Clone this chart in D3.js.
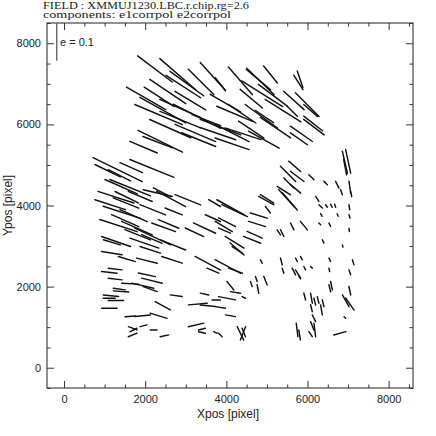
<!DOCTYPE html>
<html><head><meta charset="utf-8">
<script src="https://cdn.jsdelivr.net/npm/d3@7"></script>
<style>html,body{margin:0;padding:0;background:#fff;} svg{display:block;}</style>
</head><body>
<svg id="c" width="436" height="436"></svg>
<script>
// ---- data (Xpos, Ypos in pixel; ellipticity modulus and position angle in degrees) ----
const xpos = [2240,2803,2939,3026,3379,3668,4347,4841,4792,5088,5775,5817,3853,4883,4615,5150,5664,5993,5624,6076,6138,6158,5850,5788,4204,4388,4862,4940,4141,4409,4614,4923,4141,2022,2433,2865,2342,2330,3276,3507,3236,3318,2371,2309,1960,3791,
1321,2165,1655,1362,1408,1279,1544,1877,2309,2412,2639,1424,1526,1713,1342,1507,1796,2186,2166,2454,2576,2701,3462,3215,3668,3709,1281,1177,1980,2124,1178,1547,2043,2660,3544,3668,1260,1116,1260,2041,2166,1630,1939,2124,1362,1403,1156,1115,1279,1116,2433,2763,1630,1939,2330,1960,1692,1713,1692,2207,2474,3297,3544,3462,3751,3255,3400,3400,3730,
4100,4204,4017,3936,3956,4203,4264,4266,4698,4635,4800,4758,4984,5026,5478,5562,4038,4224,4100,4224,4017,3853,4100,4430,4347,4430,4409,3853,4615,4739,4779,4965,4862,5294,5376,5623,5912,6241,6323,6468,6589,6681,6838,7077,7031,6342,6743,7035,6302,6549,7027,6385,6867,5356,5397,5727,5850,5665,5767,5808,5932,6097,6549,6537,7126,7043,6591,6549,7043,5932,6097,6179,6261,6385,6344,6097,6159,6117,6179,5743,5805,6076,6941,7043,6920,6796,6921,7002,6928,5685,5520,5746,5540,6096,6447,6734,7043,5418,5706,5005,
2556,3112,3977,5397,5212,2618,1630,1136,2186,1815,2680,3050,1074,3853,2865];
const ypos = [7366,7238,6933,7007,7044,7180,7073,7057,7106,7230,7036,7114,6991,6755,6633,6715,6591,6489,6323,6344,6023,5933,5767,5645,6261,6263,6201,6192,5788,5769,5871,5624,5522,6641,6353,6118,6681,6242,6201,6106,5788,5624,5583,5562,5439,5772,
4883,4914,4933,4747,4463,4204,4204,4224,4306,4327,4162,3833,4061,3751,3504,3627,3442,3237,3175,3463,3546,3854,3443,3339,3689,4059,3112,3092,3073,2907,2824,2680,2640,2660,2577,2393,2434,2351,2187,2290,2146,2072,2023,1939,1940,1882,1775,1714,1660,1467,1528,1775,1268,1281,1282,1034,972,931,808,931,787,1570,1528,1817,1672,1055,952,869,869,
3957,3874,3586,3483,3381,3092,2928,2907,3278,3154,3752,3544,4121,3895,4183,4105,2496,2393,2022,1857,1713,1487,1281,1734,848,869,848,808,2062,2186,1940,2145,2619,3339,3318,3484,3504,4162,3978,3988,3994,3994,4327,4285,3957,3765,3765,3731,3546,3525,3401,3113,3002,2619,2393,2660,2701,2372,2311,2228,2454,2475,2660,2413,2598,2351,2022,1960,1898,1755,1714,1631,1672,1589,1425,1466,1219,1034,931,931,808,827,1651,1570,1240,848,5068,5089,4945,4965,4779,4718,4555,4698,4553,4513,4451,4368,4410,4163,
6810,6587,6526,6340,5921,5896,4439,4019,3895,3278,3031,4142,4858,5933,6390];
const emod = [.115,.126,.109,.110,.096,.100,.097,.101,.084,.058,.046,.046,.044,.128,.077,.097,.073,.089,.038,.048,.063,.068,.071,.055,.103,.088,.106,.058,.101,.100,.081,.093,.095,.120,.139,.116,.094,.137,.141,.081,.117,.097,.131,.084,.079,.100,
.145,.126,.065,.066,.094,.100,.069,.069,.079,.051,.087,.104,.073,.079,.104,.079,.089,.105,.059,.067,.059,.049,.065,.054,.044,.036,.081,.047,.081,.057,.055,.047,.056,.057,.077,.034,.037,.041,.037,.046,.056,.045,.060,.039,.032,.041,.041,.032,.041,.041,.046,.032,.027,.041,.047,.019,.024,.020,.025,.018,.023,.050,.041,.023,.022,.042,.019,.019,.010,
.082,.075,.051,.053,.034,.059,.048,.032,.044,.049,.047,.047,.046,.022,.061,.061,.077,.039,.029,.027,.046,.027,.027,.010,.040,.024,.038,.013,.014,.014,.023,.024,.010,.016,.020,.020,.029,.016,.013,.008,.009,.009,.014,.014,.014,.008,.007,.009,.007,.010,.009,.010,.006,.019,.014,.010,.010,.020,.026,.009,.010,.006,.010,.009,.014,.014,.023,.019,.023,.019,.027,.019,.018,.019,.027,.019,.020,.024,.036,.036,.027,.016,.036,.039,.006,.033,.060,.064,.041,.042,.057,.045,.038,.019,.013,.020,.032,.042,.035,.042,
.115,.095,.093,.112,.097,.119,.116,.085,.073,.073,.073,.073,.075,.115,.119];
const angle = [-37,-41,-33,-36,-45,-48,-49,-44,-40,-51,-58,-71,-52,-32,-40,-37,-42,-45,-45,-41,-38,-37,-35,-35,-23,-34,-36,-34,-27,-18,-34,-29,-19,-30,-29,-22,-33,-23,-27,-21,-23,-22,-26,-21,-23,-19,
-26,-22,-24,-27,-24,-18,-26,-23,-13,-27,-28,-18,-22,-24,-18,-24,-24,-25,-23,-20,-23,-22,-25,-25,-24,-30,-19,-17,-19,-18,-9,-17,-14,-18,-28,-23,-7,-6,-7,-12,-14,-3,-13,-20,-8,-4,-6,0,0,0,-29,-8,4,6,-17,14,-21,27,22,0,12,5,-6,-12,0,13,14,-13,-25,
-29,-25,-27,-31,-23,-32,-41,-33,-24,-22,-17,-17,-29,-53,-48,-49,-28,-20,-51,-9,-11,-9,-10,-26,-64,-69,69,-45,-71,-71,-79,-68,-63,-57,-64,-64,-51,-57,-44,-56,-63,-72,-71,-79,-82,-59,-68,-73,-45,-63,-83,-64,-75,-76,-72,-63,-63,-64,-59,-60,-63,-43,-63,-78,-72,-71,-78,-76,-78,-76,-80,-76,-76,-77,-80,-76,-64,-68,-83,-83,-81,-56,-61,-55,-43,16,-77,-78,-79,-41,-45,-37,-45,-45,-44,-63,-82,-32,-40,-32,
-34,-31,-30,-32,-34,-24,-22,-18,-22,-22,-22,-22,-26,-21,-24];
const xTicks = [0, 2000, 4000, 6000, 8000];
const yTicks = [0, 2000, 4000, 6000, 8000];
const titleLines = ["FIELD :  XMMUJ1230.LBC.r.chip.rg=2.6", "components: e1corrpol e2corrpol"];
const legendE = 0.1;

// ---- layout ----
const L = 47, R = 413, T = 23, B = 388;
const svg = d3.select("#c");
const x = d3.scaleLinear().domain([-420, 8600]).range([L, R]);
const y = d3.scaleLinear().domain([-500, 8500]).range([B, T]);
const whiskerUnits = 9300; // data units per unit of ellipticity

const minorX = d3.range(0, 8601, 500).filter(v => v % 2000 !== 0);
const minorY = d3.range(-500, 8501, 500).filter(v => v % 2000 !== 0);

const fontSans = "'Liberation Sans', Arial, sans-serif";
const fontSerif = "'Liberation Serif', 'DejaVu Serif', serif";

function styleAxis(g) {
  g.select(".domain").remove();
  g.selectAll("line").attr("stroke", "#333").attr("stroke-width", 1);
  g.selectAll("text").attr("fill", "#222").style("font-family", fontSans).style("font-size", "11px");
}

svg.append("g").attr("transform", `translate(0,${B})`)
  .call(d3.axisBottom(x).tickValues(xTicks).tickSizeInner(-7).tickSizeOuter(0).tickPadding(7).tickFormat(d3.format("d")))
  .call(styleAxis);
svg.append("g").attr("transform", `translate(${L},0)`)
  .call(d3.axisLeft(y).tickValues(yTicks).tickSizeInner(-7).tickSizeOuter(0).tickPadding(6).tickFormat(d3.format("d")))
  .call(styleAxis);
svg.append("g").attr("transform", `translate(0,${T})`)
  .call(d3.axisTop(x).tickValues(xTicks).tickSizeInner(-7).tickSizeOuter(0).tickFormat(""))
  .call(styleAxis);
svg.append("g").attr("transform", `translate(${R},0)`)
  .call(d3.axisRight(y).tickValues(yTicks).tickSizeInner(-7).tickSizeOuter(0).tickFormat(""))
  .call(styleAxis);
svg.append("g").attr("transform", `translate(0,${B})`)
  .call(d3.axisBottom(x).tickValues(minorX).tickSizeInner(-3.5).tickSizeOuter(0).tickFormat("")).call(styleAxis);
svg.append("g").attr("transform", `translate(0,${T})`)
  .call(d3.axisTop(x).tickValues(minorX).tickSizeInner(-3.5).tickSizeOuter(0).tickFormat("")).call(styleAxis);
svg.append("g").attr("transform", `translate(${L},0)`)
  .call(d3.axisLeft(y).tickValues(minorY).tickSizeInner(-3.5).tickSizeOuter(0).tickFormat("")).call(styleAxis);
svg.append("g").attr("transform", `translate(${R},0)`)
  .call(d3.axisRight(y).tickValues(minorY).tickSizeInner(-3.5).tickSizeOuter(0).tickFormat("")).call(styleAxis);

svg.append("rect").attr("x", L).attr("y", T).attr("width", R - L).attr("height", B - T)
  .attr("fill", "none").attr("stroke", "#333").attr("stroke-width", 1.1);

const idx = d3.range(xpos.length);
svg.append("g").selectAll("line").data(idx).join("line")
  .each(function(i) {
    const half = emod[i] * whiskerUnits / 2;
    const a = angle[i] * Math.PI / 180;
    const dx = half * Math.cos(a), dy = half * Math.sin(a);
    d3.select(this)
      .attr("x1", x(xpos[i] - dx)).attr("y1", y(ypos[i] - dy))
      .attr("x2", x(xpos[i] + dx)).attr("y2", y(ypos[i] + dy));
  })
  .attr("stroke", "#111").attr("stroke-width", 1.45).attr("stroke-linecap", "round");

const legX = -180;
svg.append("line")
  .attr("x1", x(legX)).attr("x2", x(legX))
  .attr("y1", y(8500)).attr("y2", y(8500 - legendE * whiskerUnits))
  .attr("stroke", "#666").attr("stroke-width", 1.4);
svg.append("text").attr("x", 60).attr("y", 46)
  .style("font-family", fontSans).style("font-size", "11px").attr("fill", "#222")
  .text(`e = ${legendE}`);

svg.append("text").attr("x", 43).attr("y", 8.5)
  .attr("textLength", 206).attr("lengthAdjust", "spacingAndGlyphs")
  .style("font-family", fontSerif).style("font-size", "9.5px").attr("fill", "#222")
  .text(titleLines[0]);
svg.append("text").attr("x", 43).attr("y", 18)
  .attr("textLength", 188).attr("lengthAdjust", "spacingAndGlyphs")
  .style("font-family", fontSerif).style("font-size", "9.5px").attr("fill", "#222")
  .text(titleLines[1]);

svg.append("text").attr("x", (L + R) / 2 - 2).attr("y", 418).attr("text-anchor", "middle")
  .style("font-family", fontSans).style("font-size", "12px").attr("fill", "#222")
  .text("Xpos [pixel]");
svg.append("text").attr("transform", `translate(12,${(T + B) / 2}) rotate(-90)`).attr("text-anchor", "middle")
  .style("font-family", fontSans).style("font-size", "12px").attr("fill", "#222")
  .text("Ypos [pixel]");
</script>
</body></html>
